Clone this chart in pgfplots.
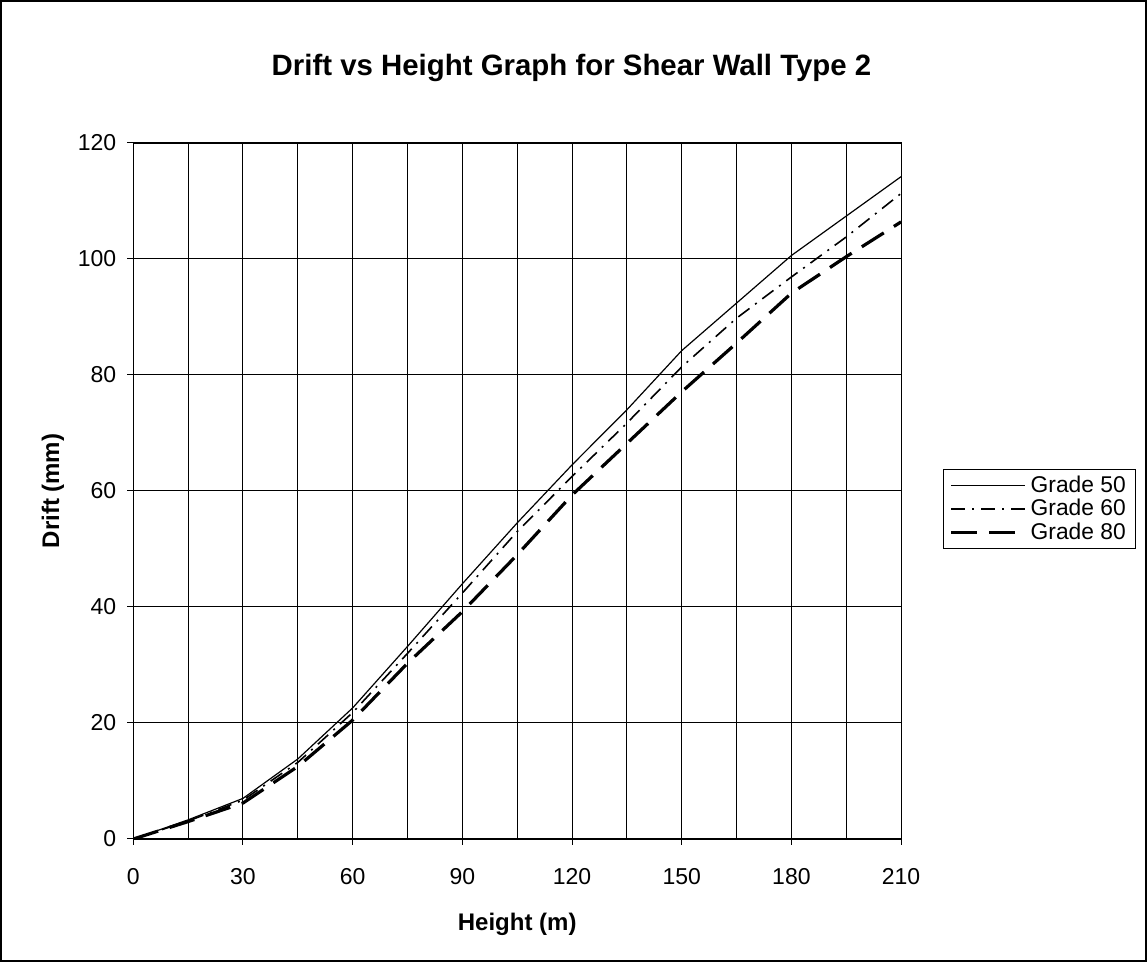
\documentclass[border=0pt]{standalone}
\usepackage{pgfplots}
\pgfplotsset{compat=1.18}
\usepackage{fontspec}
\setmainfont{Liberation Sans}
\begin{document}
\begin{tikzpicture}
\path[use as bounding box] (0,0) rectangle (573.5pt,481pt);
\draw[line width=1.2pt] (0.6pt,0.6pt) rectangle (572.9pt,480.4pt);
\node[font=\fontsize{14.7}{17}\selectfont\bfseries] at (285.75pt,447pt) {Drift vs Height Graph for Shear Wall Type 2};
\begin{axis}[
  at={(66.65pt,61.5pt)}, anchor=south west,
  scale only axis, width=383.9pt, height=348pt,
  xmin=0, xmax=210, ymin=0, ymax=120,
  xtick={0,30,...,210}, minor xtick={15,45,...,195},
  ytick={0,20,...,120},
  grid=both,
  major grid style={black, line width=0.5pt},
  minor grid style={black, line width=0.5pt},
  axis line style={black, line width=0.6pt},
  tick style={black, line width=0.5pt},
  major tick length=3pt, minor tick length=0pt,
  tick align=outside, xtick pos=bottom, ytick pos=left,
  /pgf/number format/assume math mode=true,
  ticklabel style={font=\fontsize{11.5}{13}\selectfont},
  xticklabel style={yshift=-8pt},
  yticklabel style={xshift=-2pt},
  xlabel={Height (m)}, ylabel={Drift (mm)},
  label style={font=\fontsize{12}{14}\selectfont\bfseries},
  xlabel style={yshift=-7.5pt},
  ylabel style={yshift=0pt},
  legend style={at={(1.0546,0.474)}, anchor=west, draw=black, line width=0.5pt,
    font=\fontsize{11.4}{12}\selectfont, row sep=0pt, inner xsep=3pt, inner ysep=2pt,
    nodes={inner ysep=1pt, inner xsep=2pt}},
  legend cell align=left,
  legend image code/.code={\draw[#1] (0pt,0pt) -- (37pt,0pt);},
]
\addplot[black, line width=0.6pt] coordinates {
(0,0) (15,3.3) (30,7.0) (45,13.8) (60,22.6) (75,33.2) (90,44.0) (105,54.5) (120,64.5) (135,74.0) (150,84.2) (165,92.4) (180,100.6) (195,107.4) (210,114.2)};
\addlegendentry{Grade 50}
\addplot[black, line width=0.8pt, dash pattern=on 7pt off 3.5pt on 1pt off 3.5pt] coordinates {
(0,0) (15,3.1) (30,6.7) (45,13.2) (60,21.8) (75,32.0) (90,42.4) (105,53.0) (120,62.5) (135,71.7) (150,81.4) (165,89.8) (180,96.9) (195,103.8) (210,111.3)};
\addlegendentry{Grade 60}
\addplot[black, line width=1.6pt, dash pattern=on 13pt off 6pt] coordinates {
(0,0) (15,3.0) (30,6.2) (45,12.5) (60,20.5) (75,30.3) (90,39.2) (105,49.0) (120,59.3) (135,68.2) (150,77.1) (165,85.5) (180,94.1) (195,100.4) (210,106.4)};
\addlegendentry{Grade 80}
\end{axis}
\end{tikzpicture}
\end{document}
